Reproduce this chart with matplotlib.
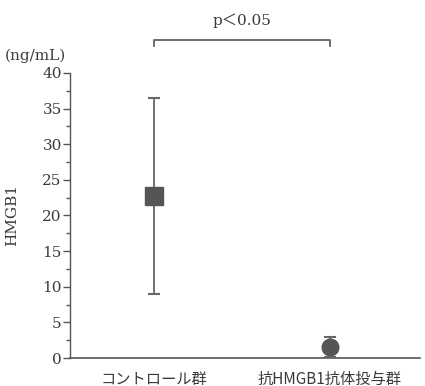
import numpy as np
import matplotlib.pyplot as plt

plt.rcParams['font.family'] = ['DejaVu Serif', 'Noto Sans CJK JP']

# Data
groups = ['コントロール群', '抗HMGB1抗体投与群']
means = [22.8, 1.5]
upper = [36.5, 2.9]
lower = [9.0, 0.2]
markers = ['s', 'o']
yticks = [0, 5, 10, 15, 20, 25, 30, 35, 40]

txt = '#3a3a3a'
fig = plt.figure(figsize=(4.25, 3.86), dpi=100)
ax = fig.add_axes([0.165, 0.0725, 0.823, 0.7385])

x = np.arange(len(groups))
for i in range(len(groups)):
    yerr = [[means[i] - lower[i]], [upper[i] - means[i]]]
    ax.errorbar(x[i], means[i], yerr=yerr, fmt=markers[i], color='#555555',
                ecolor='#666666', elinewidth=1.3, capsize=4, capthick=1.5,
                markersize=13 if markers[i] == 's' else 12, clip_on=False, zorder=3)

ax.set_xlim(-0.477, 1.511)
ax.set_ylim(0, 40)
ax.set_yticks(yticks)
ax.set_yticks(np.arange(0, 40.1, 2.5), minor=True)
ax.set_xticks(x)
ax.set_xticklabels(groups, family=['Noto Sans CJK JP'], fontsize=11, color=txt)
ax.tick_params(axis='x', length=0, pad=9)
ax.tick_params(axis='y', which='major', length=5, width=1, color='#555555',
               labelsize=11, labelcolor=txt, pad=1)
ax.tick_params(axis='y', which='minor', length=3, width=1, color='#555555')

for s in ['top', 'right']:
    ax.spines[s].set_visible(False)
ax.spines['left'].set_color('#555555')
ax.spines['bottom'].set_color('#555555')
ax.spines['left'].set_linewidth(1)
ax.spines['bottom'].set_linewidth(1.2)

ax.set_ylabel('HMGB1', fontsize=11, color=txt, labelpad=17)
ax.text(-0.1, 1.035, '(ng/mL)', transform=ax.transAxes, fontsize=11,
        color=txt, ha='center', va='bottom')

# significance bracket
ax.plot([0, 0, 1, 1], [43.8, 44.6, 44.6, 43.8], color='#555555', lw=1.2, clip_on=False)
ax.text(0.5, 46.3, 'p＜0.05', ha='center', va='bottom', fontsize=11, color=txt,
        family=['DejaVu Serif', 'Noto Sans CJK JP'])

fig.savefig('out.png', dpi=100, facecolor='white')
